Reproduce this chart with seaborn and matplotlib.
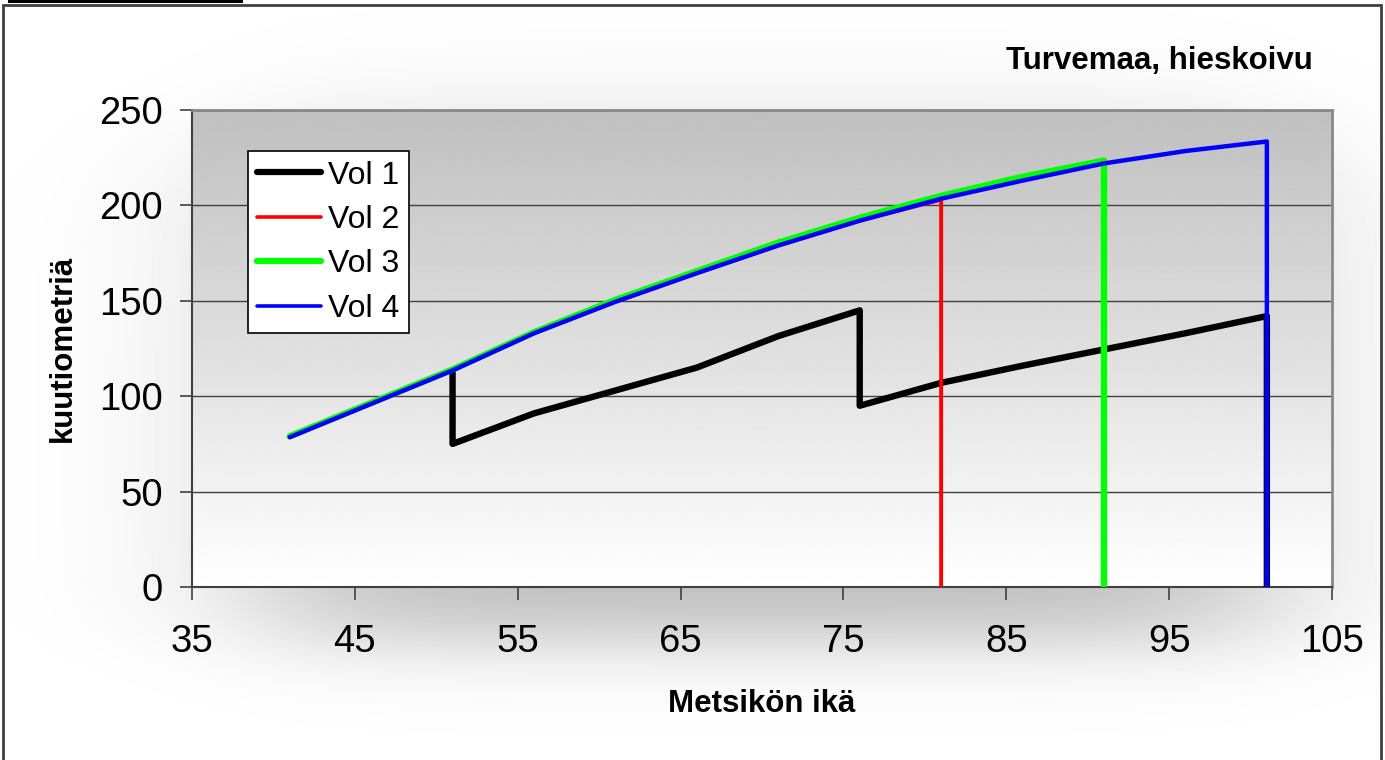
import numpy as np
import pandas as pd
import matplotlib
matplotlib.use("Agg")
import matplotlib.pyplot as plt
from matplotlib.patches import Rectangle
import seaborn as sns

# Stand age (years) and growing stock (m3/ha) for four thinning schedules.
# A repeated age marks a thinning / final cut at that age.
vol1_age = [51, 51, 56, 61, 66, 71, 76, 76, 81, 86, 91, 96, 101, 101]
vol1_m3 = [113, 75, 91, 103, 115, 131.5, 145, 95, 107, 116, 124.5, 133, 142, 0]

vol2_age = [41, 46, 51, 56, 61, 66, 71, 76, 81, 81]
vol2_m3 = [78.5, 96, 113.5, 133, 149.5, 164.5, 179, 192, 203, 0]

vol3_age = [41, 46, 51, 56, 61, 66, 71, 76, 81, 86, 91, 91]
vol3_m3 = [79, 96.5, 114, 133.5, 150.5, 165.5, 180.5, 193.5, 205, 215, 223.5, 0]

vol4_age = [41, 46, 51, 56, 61, 66, 71, 76, 81, 86, 91, 96, 101, 101]
vol4_m3 = [78.5, 96, 113.5, 133, 149.5, 164.5, 179, 192, 203.5, 213, 222, 228.5, 233.5, 0]

series_names = ["Vol 1", "Vol 2", "Vol 3", "Vol 4"]
series_colors = ["#000000", "#ff0000", "#00ff00", "#0000ff"]
series_widths = [4.6, 2.8, 4.6, 3.2]

x_ticks = [35, 45, 55, 65, 75, 85, 95, 105]
y_ticks = [0, 50, 100, 150, 200, 250]

title_text = "Turvemaa, hieskoivu"
x_title = "Metsikön ikä"
y_title = "kuutiometriä"

sns.set_theme(style="white")
plt.rcParams["font.family"] = ["Liberation Sans", "DejaVu Sans"]
plt.rcParams["text.color"] = "black"
plt.rcParams["axes.labelcolor"] = "black"

W, H = 1385, 760
fig = plt.figure(figsize=(W / 100, H / 100), dpi=100, facecolor="white")

# soft drop shadow behind the plot area
bg = fig.add_axes([0, 0, 1, 1], zorder=0)
xx, yy = np.meshgrid(np.arange(W), np.arange(H))
sx = 0.5 * (np.tanh((xx - 260) / 130.0) - np.tanh((xx - 1270) / 130.0))
sy = 0.5 * (np.tanh((yy - 150) / 70.0) - np.tanh((yy - 640) / 45.0))
shade = 1 - 0.26 * sx * sy
bg.imshow(shade, cmap="gray", vmin=0, vmax=1, extent=[0, W, H, 0], aspect="auto")
bg.set_xlim(0, W)
bg.set_ylim(H, 0)
bg.axis("off")

# outer frame and heading bar
fig.patches.append(Rectangle((3 / W, -0.01), (1381 - 3) / W, 1.01 - 5 / H,
                             transform=fig.transFigure, fill=False,
                             edgecolor="#404040", linewidth=2.0, zorder=5))
fig.patches.append(Rectangle((8 / W, 1 - 3 / H), (243 - 8) / W, 3 / H,
                             transform=fig.transFigure, facecolor="black",
                             edgecolor="none", zorder=5))

ax = fig.add_axes([192 / W, 1 - 587 / H, (1332 - 192) / W, (587 - 110) / H], zorder=2)
ax.set_facecolor("none")

# vertical grey-to-white gradient of the plot area (grey at the top)
grad = np.linspace(0.75, 1.0, 256).reshape(-1, 1)
ax.imshow(grad, cmap="gray", vmin=0, vmax=1, extent=[35, 105, 0, 250],
          origin="upper", aspect="auto", zorder=0)

frames = [
    pd.DataFrame({"age": vol1_age, "m3": vol1_m3}),
    pd.DataFrame({"age": vol2_age, "m3": vol2_m3}),
    pd.DataFrame({"age": vol3_age, "m3": vol3_m3}),
    pd.DataFrame({"age": vol4_age, "m3": vol4_m3}),
]
for i, (df, name, col, lw) in enumerate(zip(frames, series_names, series_colors, series_widths)):
    sns.lineplot(data=df, x="age", y="m3", sort=False, estimator=None,
                 color=col, linewidth=lw, label=name, ax=ax, zorder=3 + i,
                 solid_joinstyle="round", solid_capstyle="round")

ax.set_xlim(35, 105)
ax.set_ylim(0, 250)
ax.set_xticks(x_ticks)
ax.set_yticks(y_ticks)
ax.yaxis.grid(True, color="#404040", linewidth=1.0, zorder=1)
ax.xaxis.grid(False)
ax.set_axisbelow(True)

ax.tick_params(axis="both", direction="out", length=9, width=1.2, color="#404040",
               labelsize=27.5, labelcolor="black")
ax.tick_params(axis="y", pad=12)
ax.tick_params(axis="x", pad=18)
ax.tick_params(left=True, bottom=True)

for side in ["left", "bottom"]:
    ax.spines[side].set_color("#404040")
    ax.spines[side].set_linewidth(1.5)
for side in ["top", "right"]:
    ax.spines[side].set_color("#888888")
    ax.spines[side].set_linewidth(2.0)

ax.set_xlabel(x_title, fontsize=22.5, fontweight="bold")
ax.set_ylabel(y_title, fontsize=22.5, fontweight="bold")
ax.xaxis.set_label_coords(0.5, -0.214)
ax.yaxis.set_label_coords(-0.1, 0.5)

leg = ax.legend(loc="upper left", bbox_to_anchor=(0.049, 0.914), borderaxespad=0,
                fontsize=23, frameon=True, fancybox=False, shadow=False,
                handlelength=2.0, handletextpad=0.2, labelspacing=0.45,
                borderpad=0.3)
leg.get_frame().set_edgecolor("#000000")
leg.get_frame().set_linewidth(1.2)
leg.get_frame().set_facecolor("white")
leg.get_frame().set_alpha(1)
leg_widths = [4.5, 2.6, 4.5, 2.6]
for h, w in zip(leg.get_lines(), leg_widths):
    h.set_linewidth(w)
    h.set_solid_capstyle("round")

fig.text(1313 / W, 1 - 61 / H, title_text, ha="right", va="center",
         fontsize=22.5, fontweight="bold")

fig.savefig("out.png", dpi=100)
